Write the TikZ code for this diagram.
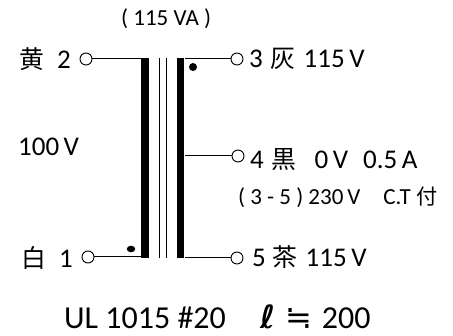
\documentclass[tikz,border=0pt]{standalone}
\usepackage{fontspec}
\usetikzlibrary{shapes.geometric}
\setmainfont{Carlito}
\newfontfamily\cjk[Scale=0.92]{Noto Sans CJK JP}
\newfontfamily\djv{DejaVu Sans}
\tikzset{
  x=1pt,y=-1pt,
  term/.style={circle,draw=black,fill=white,line width=0.9pt,minimum size=12pt,inner sep=0pt},
  wire/.style={draw=black,line width=1pt},
  core/.style={draw=black,line width=1.1pt},
  winding/.style={fill=black,draw=none,inner sep=0pt,minimum width=7.5pt,minimum height=200pt},
  dotmark/.style={circle,fill=black,inner sep=0pt,minimum size=8pt},
  bigtxt/.style={inner sep=0pt,anchor=west,font=\fontsize{27}{30}\selectfont},
  smalltxt/.style={inner sep=0pt,anchor=west,font=\fontsize{23}{26}\selectfont},
  hugetxt/.style={inner sep=0pt,anchor=west,font=\fontsize{32}{36}\selectfont},
}
\begin{document}
\begin{tikzpicture}
\useasboundingbox (0,0) rectangle (453,336);
\node[winding] (wl) at (144.8,158.3) {};
\node[winding] (wr) at (180.6,158.3) {};
\coordinate (ct) at (159.5,58); \coordinate (cb) at (159.5,258);
\coordinate (dt) at (166.5,58); \coordinate (db) at (166.5,258);
\draw[core] (ct) -- (cb);
\draw[core] (dt) -- (db);
\node[term] (t2) at (86,59) {};
\node[term] (t1) at (88,257) {};
\node[term] (t3) at (237,59) {};
\node[term] (t4) at (238,156) {};
\node[term] (t5) at (237,258) {};
\draw[wire] (t2.east) -- (t2.east -| wl.west);
\draw[wire] (t1.east) -- (t1.east -| wl.west);
\draw[wire] (t3.west) -- (t3.west -| wr.east);
\draw[wire] (t4.west) -- (t4.west -| wr.east);
\draw[wire] (t5.west) -- (t5.west -| wr.east);
\node[dotmark] (d1) at (193,67) {};
\node[ellipse,fill=black,inner sep=0pt,minimum width=8.5pt,minimum height=6.5pt] (d2) at (131,249) {};
\node[smalltxt] (va) at (121,19) {( 115 VA )};
\node[bigtxt] (l2) at (19,59) {{\cjk 黄}\hspace{13pt}2};
\node[bigtxt] (l100) at (18,147) {100\,V};
\node[bigtxt] (l1) at (21,258) {{\cjk 白}\hspace{13pt}1};
\node[bigtxt] (l3) at (249,59) {3\hspace{8pt}{\cjk 灰}\hspace{8pt}115\,V};
\node[bigtxt] (l4) at (250,160) {4\hspace{8pt}{\cjk 黒}\hspace{18pt}0\,V\hspace{15pt}0.5\,A};
\node[smalltxt] (l35) at (238,197) {( 3 - 5 ) 230\,V\hspace{23pt}C.T\hspace{6pt}{\cjk 付}};
\node[bigtxt] (l5) at (252,257) {5\hspace{7pt}{\cjk 茶}\hspace{8pt}115\,V};
\node[hugetxt] (ul) at (64,317) {UL 1015 \#20\hspace{35pt}{\djv\bfseries ℓ}\hspace{10pt}{\djv ≒}\hspace{9pt}200};
\end{tikzpicture}
\end{document}
